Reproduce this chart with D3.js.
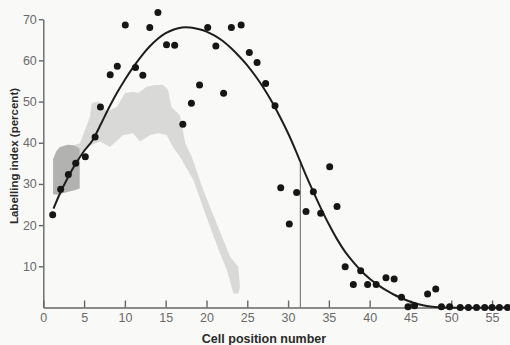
<!DOCTYPE html>
<html>
<head>
<meta charset="utf-8">
<script src="https://cdn.jsdelivr.net/npm/d3@7"></script>
<style>
html,body{margin:0;padding:0;background:#f9f9f7;}
svg{display:block;}
</style>
</head>
<body>
<svg id="chart" width="510" height="345"></svg>
<script>
// ---- data ----
const cellX = [1.15, 2.13, 3.07, 3.97, 5.15, 6.35, 7.0, 8.2, 9.07, 10.05, 11.3, 12.2, 13.05, 14.05, 15.1, 16.1, 17.1, 18.15, 19.15, 20.15, 21.15, 22.1, 23.05, 24.25, 25.25, 26.2, 27.25, 28.4, 29.1, 30.15, 31.05, 32.2, 33.1, 34.0, 35.1, 36.0, 37.0, 38.0, 38.9, 39.75, 40.8, 42.0, 43.0, 43.9, 44.7, 45.5, 47.1, 48.1, 48.8, 49.8, 51.1, 52.1, 53.1, 54.1, 55.0, 55.9, 56.9];
const labelIdx = [22.5, 28.7, 32.3, 35.0, 36.6, 41.4, 48.7, 56.5, 58.6, 68.6, 58.3, 56.4, 68.0, 71.6, 63.8, 63.7, 44.5, 49.6, 54.0, 68.0, 63.5, 52.0, 68.0, 68.6, 61.9, 59.5, 54.4, 49.0, 29.1, 20.3, 27.9, 23.3, 28.1, 22.9, 34.2, 24.5, 9.9, 5.6, 8.9, 5.6, 5.6, 7.2, 6.9, 2.5, 0.2, 0.4, 3.3, 4.5, 0.2, 0.2, 0, 0, 0, 0, 0, 0, 0];

const fitX = [1.25, 2, 3, 4, 5, 6, 7, 8, 9, 10, 11, 12, 13, 14, 15, 16, 17, 18, 19, 20, 21, 22, 23, 24, 25, 26, 27, 28, 29, 30, 31, 32, 33, 34, 35, 36, 37, 38, 39, 40, 41, 42, 43, 44, 45, 46, 47, 48, 49, 57.5];
const fitY = [24, 27.5, 31.5, 35, 38, 40.5, 44.3, 48.3, 52, 55.3, 58.3, 61, 63.3, 65.2, 66.6, 67.5, 68, 68, 67.6, 67, 66, 64.7, 63, 61, 58.8, 56.2, 53.3, 50, 46.3, 42.3, 37.8, 33, 28.5, 24.2, 20.2, 16.6, 13.5, 11, 8.8, 7, 5.5, 4.2, 3.1, 2.2, 1.4, 0.8, 0.35, 0.1, 0, 0];

// light shaded band: upper edge (left→right) then lower edge (left→right)
const bandTopX = [1.23, 2.05, 3.68, 4.5, 5.72, 5.93, 6.74, 7.77, 9.0, 10.0, 11.0, 11.65, 12.67, 13.7, 14.7, 15.3, 15.7, 16.75, 17.4, 18.2, 19.6, 21.25, 22.9, 23.9, 24.1, 23.9];
const bandTopY = [35.8, 39.0, 39.4, 39.9, 46.3, 49.6, 50.0, 47.5, 48.7, 52.0, 52.4, 52.1, 53.6, 54.0, 54.0, 52.8, 48.7, 46.7, 39.9, 36.6, 28.5, 20.4, 12.3, 9.9, 5.0, 3.4];
const bandBotX = [1.23, 2.05, 3.68, 4.42, 4.5, 5.3, 6.95, 8.17, 9.8, 11.0, 11.85, 13.1, 14.1, 15.1, 15.9, 16.75, 18.4, 20.0, 21.65, 22.5, 23.3];
const bandBotY = [27.3, 27.7, 28.5, 28.9, 36.6, 39.0, 40.3, 39.0, 41.9, 42.3, 40.3, 41.9, 42.3, 41.9, 39.0, 36.6, 30.9, 22.0, 13.2, 9.1, 3.4];

// darker shaded patch at the left
const darkX = [1.2, 1.6, 2.05, 3.0, 3.7, 4.45, 4.45, 3.7, 2.5, 1.6, 1.2];
const darkY = [36.0, 38.0, 39.0, 39.5, 39.4, 38.6, 28.9, 28.4, 27.8, 27.4, 27.6];

const markerX = 31.5, markerTop = 35.0;

const xTicks = [0, 5, 10, 15, 20, 25, 30, 35, 40, 45, 50, 55];
const yTicks = [10, 20, 30, 40, 50, 60, 70];

// ---- layout ----
const svg = d3.select("#chart");
const x = d3.scaleLinear().domain([0, 57.2]).range([43.3, 510]);
const y = d3.scaleLinear().domain([0, 70]).range([307.5, 19.2]);

// band
const poly = d3.line().x(d => x(d[0])).y(d => y(d[1])).curve(d3.curveLinearClosed);
const bandPts = bandTopX.map((v, i) => [v, bandTopY[i]])
  .concat(bandBotX.map((v, i) => [v, bandBotY[i]]).reverse());
svg.append("path").attr("d", poly(bandPts)).attr("fill", "#d9d9d7").attr("stroke", "none");
const darkPts = darkX.map((v, i) => [v, darkY[i]]);
svg.append("path").attr("d", poly(darkPts)).attr("fill", "#b2b2b0").attr("stroke", "none");

// axes
const fontFam = "'Liberation Sans', Arial, sans-serif";
const xAxis = d3.axisBottom(x).tickValues(xTicks).tickSizeInner(-7).tickSizeOuter(0).tickPadding(6);
const gx = svg.append("g").attr("transform", `translate(0,${y(0)})`).call(xAxis);
gx.select(".domain").attr("stroke", "#666").attr("stroke-width", 1.4);
gx.selectAll(".tick line").attr("stroke", "#666").attr("stroke-width", 1.4);
gx.selectAll("text").attr("fill", "#6a6a6a").attr("font-size", 12.5).attr("font-family", fontFam);

const yAxis = d3.axisLeft(y).tickValues(yTicks).tickSizeInner(4.5).tickSizeOuter(0).tickPadding(2);
const gy = svg.append("g").attr("transform", `translate(${x(0)},0)`).call(yAxis);
gy.select(".domain").attr("stroke", "#666").attr("stroke-width", 1.4);
gy.selectAll(".tick line").attr("stroke", "#666").attr("stroke-width", 1.4);
gy.selectAll("text").attr("fill", "#6a6a6a").attr("font-size", 12.5).attr("font-family", fontFam);

// vertical marker
svg.append("line")
  .attr("x1", x(markerX)).attr("x2", x(markerX))
  .attr("y1", y(0)).attr("y2", y(markerTop))
  .attr("stroke", "#666").attr("stroke-width", 1);

// fitted curve
const line = d3.line().x((d, i) => x(d)).y((d, i) => y(fitY[i])).curve(d3.curveCatmullRom);
svg.append("path").attr("d", line(fitX)).attr("fill", "none").attr("stroke", "#1e1e1e").attr("stroke-width", 2);

// points
svg.append("g").selectAll("circle").data(cellX).join("circle")
  .attr("cx", d => x(d)).attr("cy", (d, i) => y(labelIdx[i])).attr("r", 3.5)
  .attr("fill", "#161616");

// axis titles
svg.append("text").attr("x", 264).attr("y", 343).attr("text-anchor", "middle")
  .attr("font-size", 12.5).attr("font-weight", "bold").attr("font-family", fontFam).attr("fill", "#2a2a2a")
  .text("Cell position number");
svg.append("text").attr("transform", "translate(18,156) rotate(-90)").attr("text-anchor", "middle")
  .attr("font-size", 11.5).attr("font-weight", "bold").attr("font-family", fontFam).attr("fill", "#2a2a2a")
  .text("Labelling index (percent)");
</script>
</body>
</html>
